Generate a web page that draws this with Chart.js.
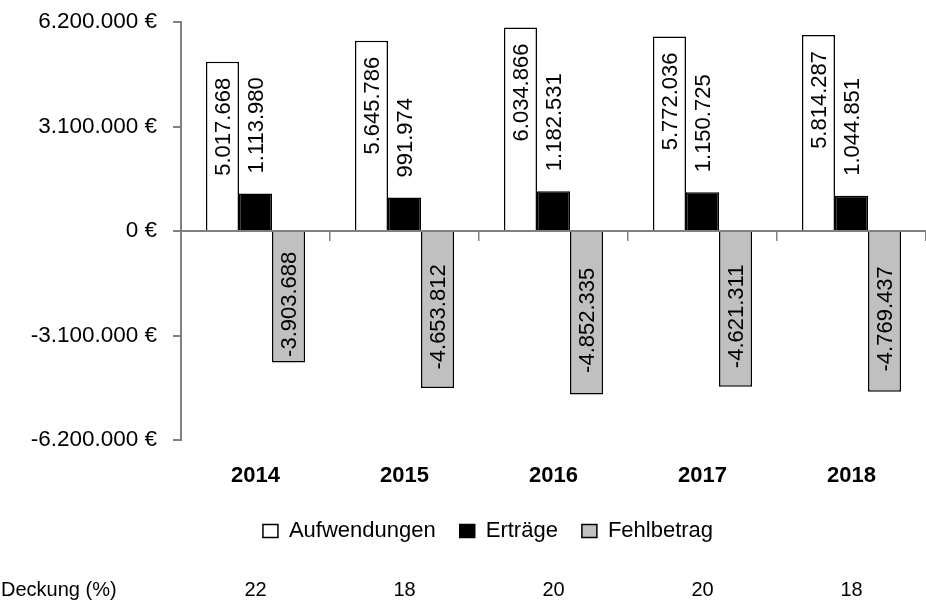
<!DOCTYPE html>
<html lang="de">
<head>
<meta charset="utf-8">
<title>Aufwendungen, Erträge und Fehlbetrag 2014–2018</title>
<script src="https://cdn.jsdelivr.net/npm/chart.js@4.4.1/dist/chart.umd.min.js"></script>
<style>
  html, body { margin: 0; padding: 0; background: #fff; }
  #wrap { width: 926px; height: 608px; position: relative; }
</style>
</head>
<body>
<div id="wrap"><canvas id="chart"></canvas></div>
<script>
// Jahreswerte in Euro
const years = ['2014', '2015', '2016', '2017', '2018'];
const aufwendungen = [5017668, 5645786, 6034866, 5772036, 5814287];
const ertraege = [1113980, 991974, 1182531, 1150725, 1044851];
const fehlbetrag = [-3903688, -4653812, -4852335, -4621311, -4769437];
const deckung = [22, 18, 20, 20, 18];
const yTicks = [-6200000, -3100000, 0, 3100000, 6200000];

const fontFamily = "'Liberation Sans', Arial, sans-serif";
const axisGray = '#808080';

// 5017668 -> "5.017.668"
function formatDe(v) {
    const s = Math.abs(Math.round(v)).toString().replace(/\B(?=(\d{3})+(?!\d))/g, '.');
    return (v < 0 ? '-' : '') + s;
}

// Vertikale Wertbeschriftungen an den Balken
const barLabels = {
    id: 'barLabels',
    afterDatasetsDraw(chart) {
        const ctx = chart.ctx;
        ctx.save();
        ctx.font = '22px ' + fontFamily;
        ctx.fillStyle = '#000';
        ctx.textBaseline = 'middle';
        chart.data.datasets.forEach((ds, i) => {
            const meta = chart.getDatasetMeta(i);
            meta.data.forEach((bar, j) => {
                const { x, y, base } = bar.getProps(['x', 'y', 'base'], true);
                let ay, align;
                if (ds.labelAnchor === 'insideEnd') {
                    ay = y + 16; align = 'right';
                } else if (ds.labelAnchor === 'outside') {
                    ay = y - 20; align = 'left';
                } else {
                    ay = (y + base) / 2 + 7; align = 'center';
                }
                ctx.save();
                ctx.translate(x + 1, ay);
                ctx.rotate(-Math.PI / 2);
                ctx.textAlign = align;
                ctx.fillText(formatDe(ds.data[j]), 0, 0);
                ctx.restore();
            });
        });
        ctx.restore();
    }
};

// Legende etwas nach rechts ruecken
const legendShift = {
    id: 'legendShift',
    afterLayout(chart) {
        chart.legend.left += 25;
        chart.legend.right += 25;
    }
};

// Zeile "Deckung (%)" unter der Legende
const deckungRow = {
    id: 'deckungRow',
    afterDraw(chart) {
        const ctx = chart.ctx;
        const xs = chart.scales.x;
        ctx.save();
        ctx.font = '20px ' + fontFamily;
        ctx.fillStyle = '#000';
        ctx.textBaseline = 'middle';
        ctx.textAlign = 'left';
        ctx.fillText('Deckung (%)', 1, 590);
        ctx.textAlign = 'center';
        deckung.forEach((d, i) => ctx.fillText(String(d), xs.getPixelForValue(i), 590));
        ctx.restore();
    }
};

new Chart(document.getElementById('chart'), {
    type: 'bar',
    data: {
        labels: years,
        datasets: [
            { label: 'Aufwendungen', data: aufwendungen, backgroundColor: '#ffffff', borderColor: '#000', borderWidth: 1.5, labelAnchor: 'insideEnd' },
            { label: 'Erträge', data: ertraege, backgroundColor: '#000000', borderColor: '#000', borderWidth: 1.5, labelAnchor: 'outside' },
            { label: 'Fehlbetrag', data: fehlbetrag, backgroundColor: '#c0c0c0', borderColor: '#000', borderWidth: 1.5, labelAnchor: 'center' }
        ]
    },
    options: {
        responsive: true,
        maintainAspectRatio: false,
        animation: false,
        categoryPercentage: 0.665,
        barPercentage: 1,
        layout: { padding: { top: 22, left: 0, right: 0, bottom: 56 } },
        scales: {
            x: {
                position: 'bottom',
                grid: { display: false, drawTicks: false },
                border: { display: false },
                ticks: { color: '#000', padding: 23, font: { family: fontFamily, size: 22, weight: 'bold' } },
                afterFit: s => { s.height = 56; }
            },
            zero: {
                type: 'category',
                axis: 'x',
                labels: years,
                position: { y: 0 },
                offset: true,
                grid: { offset: true, drawOnChartArea: false, drawTicks: true, tickLength: 9, color: axisGray, lineWidth: 1.5 },
                border: { color: axisGray, width: 2 },
                ticks: { display: false }
            },
            y: {
                position: 'left',
                min: -6200000,
                max: 6200000,
                afterBuildTicks: s => { s.ticks = yTicks.map(v => ({ value: v })); },
                ticks: {
                    color: '#000',
                    padding: 16,
                    font: { family: fontFamily, size: 22.5 },
                    callback: v => formatDe(v) + ' €'
                },
                grid: { drawOnChartArea: false, tickLength: 8, color: axisGray, lineWidth: 2 },
                border: { color: axisGray, width: 2 },
                afterFit: s => {
                    s.width = 181;
                    s.paddingTop = 0;
                    s.paddingBottom = 0;
                }
            }
        },
        plugins: {
            legend: {
                position: 'bottom',
                labels: {
                    color: '#000',
                    boxWidth: 15,
                    boxHeight: 13,
                    padding: 24,
                    font: { family: fontFamily, size: 22 }
                }
            },
            tooltip: { enabled: false }
        }
    },
    plugins: [barLabels, legendShift, deckungRow]
});
</script>
</body>
</html>
